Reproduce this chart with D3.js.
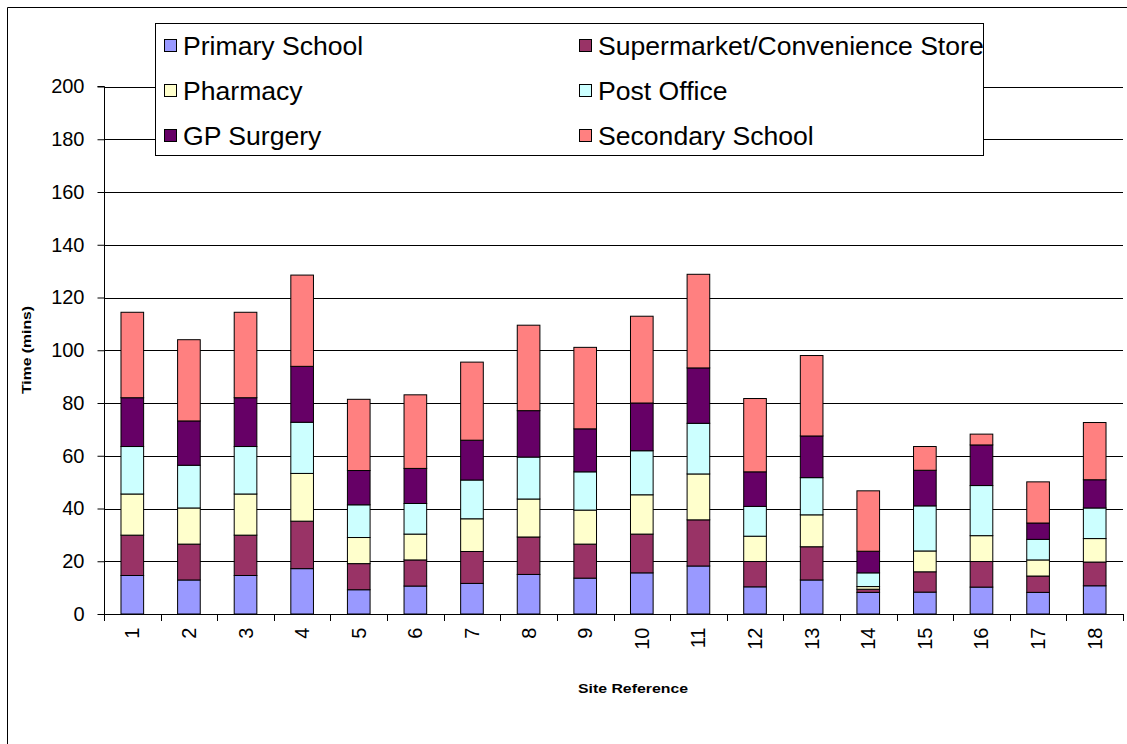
<!DOCTYPE html>
<html><head><meta charset="utf-8">
<script src="https://cdn.jsdelivr.net/npm/d3@7/dist/d3.min.js"></script>
<style>body{margin:0;background:#fff}svg{display:block}text{font-family:Arial,"Liberation Sans",sans-serif}</style>
</head><body><svg id="c" width="1127" height="744"></svg>
<script>
const categories = ["1","2","3","4","5","6","7","8","9","10","11","12","13","14","15","16","17","18"];
const seriesNames = ["Primary School","Supermarket/Convenience Store","Pharmacy","Post Office","GP Surgery","Secondary School"];
const primary   = [14.6,12.9,14.6,17.2,9.2,10.6,11.6,15.0,13.6,15.6,18.2,10.3,12.9,8.2,8.3,10.2,8.2,10.7];
const supermarket = [15.3,13.6,15.3,18.0,9.9,9.9,12.1,14.2,12.9,14.7,17.5,9.6,12.6,1.2,7.7,9.7,6.2,9.0];
const pharmacy  = [15.6,13.7,15.6,18.1,9.9,9.8,12.4,14.4,12.9,14.9,17.4,9.6,12.1,1.0,7.9,9.8,6.1,8.9];
const postOffice = [18.0,16.2,18.0,19.4,12.4,11.6,14.7,15.9,14.5,16.7,19.2,11.3,14.1,5.2,17.1,19.0,7.8,11.6];
const gpSurgery = [18.5,16.8,18.5,21.2,13.0,13.3,15.1,17.6,16.3,18.1,21.0,13.1,15.8,8.2,13.5,15.4,6.2,10.7];
const secondary = [32.4,30.8,32.4,34.6,27.0,27.9,29.6,32.4,30.9,32.9,35.5,27.8,30.5,22.9,9.0,4.1,15.6,21.7];
const yTicks = [0,20,40,60,80,100,120,140,160,180,200];
const colors = ["#9999FF","#993366","#FFFFCC","#CCFFFF","#660066","#FF8080"];

const seriesData = [primary, supermarket, pharmacy, postOffice, gpSurgery, secondary];
const rows = categories.map((c,i)=>{const o={cat:c}; seriesNames.forEach((s,j)=>o[s]=seriesData[j][i]); return o;});
const stacked = d3.stack().keys(seriesNames)(rows);

const svg = d3.select("#c");
const L=104, R=1123, T=86.5, B=614;
const x = d3.scaleBand().domain(categories).range([L,R]).padding(0);
const y = d3.scaleLinear().domain([0,200]).range([B,T]);

// outer border (clipped at right/bottom)
svg.append("path").attr("d","M7.5,760V7.5H1140").attr("fill","none").attr("stroke","#000").attr("stroke-width",1);

// gridlines
svg.append("g").selectAll("line").data(yTicks.filter(d=>d>0)).join("line")
  .attr("x1",L).attr("x2",R).attr("y1",d=>Math.round(y(d))+0.5).attr("y2",d=>Math.round(y(d))+0.5)
  .attr("stroke","#000").attr("stroke-width",1);

// bars
const bw = x.bandwidth()*0.4;
svg.append("g").selectAll("g").data(stacked).join("g")
  .attr("fill",(d,i)=>colors[i])
  .selectAll("rect").data(d=>d).join("rect")
  .attr("x",d=>x(d.data.cat)+(x.bandwidth()-bw)/2)
  .attr("width",bw)
  .attr("y",d=>y(d[1]))
  .attr("height",d=>y(d[0])-y(d[1]))
  .attr("stroke","#000").attr("stroke-width",1);

// y axis
const yAxis = d3.axisLeft(y).tickValues(yTicks).tickSize(7).tickPadding(13).tickFormat(d3.format("d"));
const gy = svg.append("g").attr("transform",`translate(${L+0.5},0)`).call(yAxis);
gy.select(".domain").attr("stroke","#000").attr("d",`M-7,${T}H0V${B}`);
gy.selectAll(".tick line").attr("stroke","#000");
gy.selectAll(".tick text").attr("font-size",20).attr("fill","#000").attr("font-family","Arial, 'Liberation Sans', sans-serif");

// x axis
const xAxis = d3.axisBottom(x).tickSize(0).tickPadding(0);
const gx = svg.append("g").attr("transform",`translate(0,${B+0.5})`).call(xAxis);
gx.select(".domain").attr("stroke","#000").attr("d",`M${L},0H${R}`);
gx.selectAll(".tick text").attr("font-size",20).attr("fill","#000")
  .attr("font-family","Arial, 'Liberation Sans', sans-serif")
  .attr("transform","translate(0,13) rotate(-90)").attr("text-anchor","end").attr("dy","0.35em").attr("x",0).attr("y",0);
// boundary tick marks
const bounds = categories.map(c=>x(c)).concat([R]);
svg.append("g").selectAll("line").data(bounds).join("line")
  .attr("x1",d=>Math.round(d)+0.5).attr("x2",d=>Math.round(d)+0.5).attr("y1",B).attr("y2",B+7).attr("stroke","#000");

// axis titles
svg.append("text").attr("transform","translate(31,350) rotate(-90)").attr("text-anchor","middle")
  .attr("font-size",13).attr("font-weight","bold").attr("textLength",88).attr("lengthAdjust","spacingAndGlyphs").text("Time (mins)");
svg.append("text").attr("x",633).attr("y",693).attr("text-anchor","middle")
  .attr("font-size",13).attr("font-weight","bold").attr("textLength",110).attr("lengthAdjust","spacingAndGlyphs").text("Site Reference");

// legend
const lg = svg.append("g");
lg.append("rect").attr("x",155.5).attr("y",23.5).attr("width",828).attr("height",132).attr("fill","#fff").attr("stroke","#000");
const colX=[164,579], rowY=[46,91,136];
seriesNames.forEach((s,i)=>{
  const cx = colX[i%2], cy=rowY[Math.floor(i/2)];
  lg.append("rect").attr("x",cx+0.5).attr("y",cy-6.5).attr("width",12).attr("height",12).attr("fill",colors[i]).attr("stroke","#000");
  lg.append("text").attr("transform",`translate(${cx+19},${cy+9}) scale(1.064,1)`).attr("font-size",25).attr("fill","#000").text(s);
});
</script></body></html>
